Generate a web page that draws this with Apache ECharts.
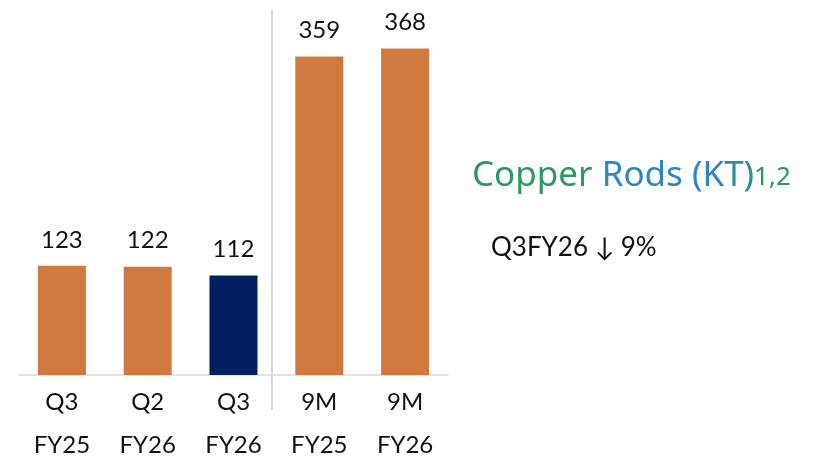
<!DOCTYPE html>
<html>
<head>
<meta charset="utf-8">
<script src="https://cdn.jsdelivr.net/npm/echarts@6/dist/echarts.min.js"></script>
<style>
  html, body { margin: 0; padding: 0; background: #ffffff; }
  #chart { width: 817px; height: 462px; }
</style>
</head>
<body>
<div id="chart"></div>
<script>
// Copper rod volumes by period (kilotonnes)
const categories = ['Q3\nFY25', 'Q2\nFY26', 'Q3\nFY26', '9M\nFY25', '9M\nFY26'];
const volumes = [123, 122, 112, 359, 368];
const barColors = ['#D07A40', '#D07A40', '#002060', '#D07A40', '#D07A40'];

const chart = echarts.init(document.getElementById('chart'));
const labelFont = 'Lato, "Liberation Sans", sans-serif';
const titleFont = '"Noto Sans", sans-serif';

chart.setOption({
  animation: false,
  grid: { left: 19, right: 369, top: 20, bottom: 87, outerBoundsMode: 'none' },
  xAxis: {
    type: 'category',
    data: categories,
    axisLine: { lineStyle: { color: '#d9d9d9', width: 1.5 } },
    axisTick: { show: false },
    axisLabel: {
      color: '#111111',
      fontFamily: labelFont,
      fontSize: 24,
      lineHeight: 43,
      margin: 6
    }
  },
  yAxis: {
    type: 'value',
    min: 0,
    max: 400,
    show: false
  },
  series: [{
    type: 'bar',
    barWidth: 48,
    data: volumes.map((v, i) => ({ value: v, itemStyle: { color: barColors[i] } })),
    label: {
      show: true,
      position: 'top',
      distance: 14,
      color: '#111111',
      fontFamily: labelFont,
      fontSize: 24
    }
  }],
  graphic: [
    {
      type: 'line',
      shape: { x1: 272, y1: 10, x2: 272, y2: 410 },
      style: { stroke: '#c8c8c8', lineWidth: 1.5 }
    },
    {
      type: 'text',
      left: 472,
      top: 159,
      style: {
        text: '{g|Copper }{b|Rods (K}{t|T)}{s|1,2}',
        rich: {
          g: { fill: '#2a9a5c', fontSize: 35, fontFamily: titleFont, verticalAlign: 'bottom' },
          b: { fill: '#2e86c8', fontSize: 35, fontFamily: titleFont, verticalAlign: 'bottom' },
          t: { fill: '#2a8f96', fontSize: 35, fontFamily: titleFont, verticalAlign: 'bottom' },
          s: { fill: '#2a9a5c', fontSize: 26, fontFamily: titleFont, verticalAlign: 'bottom', padding: [0, 0, 3, 0] }
        }
      }
    },
    {
      type: 'text',
      left: 491,
      top: 235,
      style: {
        text: 'Q3FY26 \u2193 9%',
        fill: '#111111',
        fontSize: 26,
        fontFamily: labelFont
      }
    }
  ]
});
</script>
</body>
</html>
